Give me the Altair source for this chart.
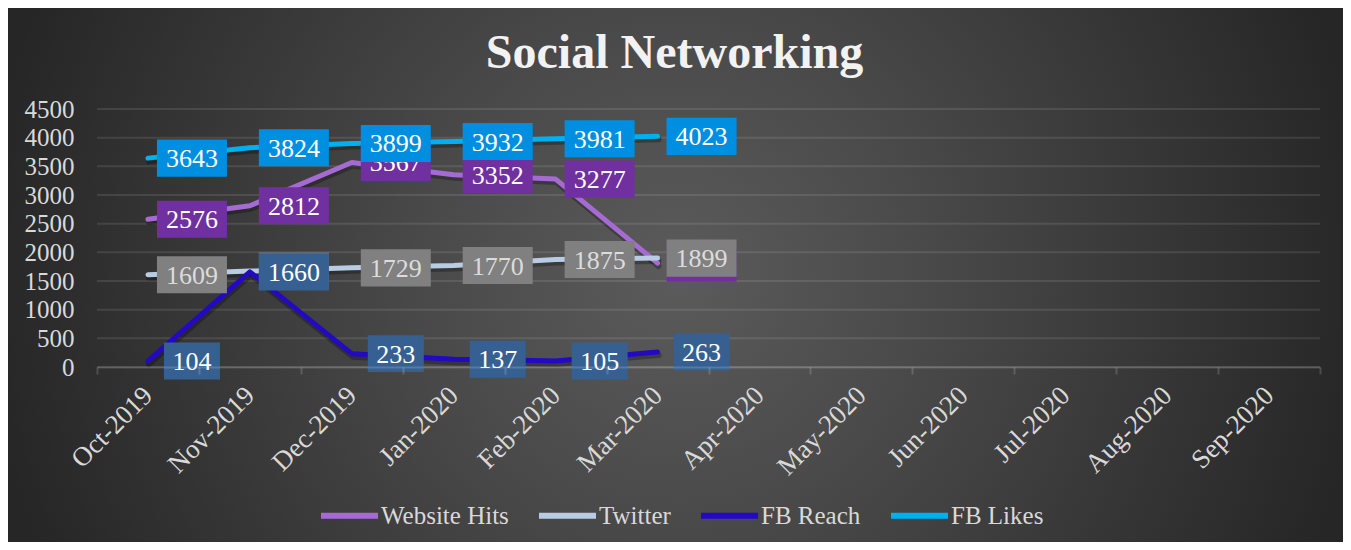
import altair as alt
import pandas as pd

# ---------------- data ----------------
months = ["Oct-2019", "Nov-2019", "Dec-2019", "Jan-2020", "Feb-2020", "Mar-2020",
          "Apr-2020", "May-2020", "Jun-2020", "Jul-2020", "Aug-2020", "Sep-2020"]
series_names = ["Website Hits", "Twitter", "FB Reach", "FB Likes"]
website_hits = [2576, 2812, 3567, 3352, 3277, 1812]
twitter = [1609, 1673, 1729, 1770, 1875, 1899]
fb_reach = [104, 1660, 233, 137, 105, 263]
fb_likes = [3643, 3824, 3899, 3932, 3981, 4023]
y_ticks = [0, 500, 1000, 1500, 2000, 2500, 3000, 3500, 4000, 4500]

line_colors = ["#a66bd3", "#b8cce4", "#2309c2", "#00b0f0"]
box_colors = ["#7030a0", "#808080", "#376092", "#008fe0"]
text_colors = ["#ffffff", "#dcdcdc", "#ffffff", "#ffffff"]

rows = []
for name, vals in zip(series_names, [website_hits, twitter, fb_reach, fb_likes]):
    for m, v in zip(months, vals):
        rows.append({"month": m, "series": name, "value": v, "label": str(v)})
df = pd.DataFrame(rows)
grid_df = pd.DataFrame({"value": y_ticks})

# ---------------- layout ----------------
W, H = 1223, 258
PAD = {"left": 89, "top": 101, "right": 23, "bottom": 175}
FONT = "Liberation Serif"
LABEL_DX = 44

x_enc = alt.X(
    "month:N", sort=months, bandPosition=0.5, title=None,
    scale=alt.Scale(domain=months, type="band", paddingInner=0, paddingOuter=0),
    axis=alt.Axis(labelAngle=315, labelAlign="right", labelBaseline="middle",
                  labelFont=FONT, labelFontSize=27, labelColor="#d9d9d9",
                  labelPadding=17, domainColor="rgba(255,255,255,0.16)", domainWidth=2,
                  tickColor="rgba(255,255,255,0.16)", tickWidth=2, tickSize=7,
                  tickBand="extent", grid=False, zindex=1),
)
y_enc = alt.Y(
    "value:Q", title=None,
    scale=alt.Scale(domain=[0, 4500], nice=False),
    axis=alt.Axis(values=y_ticks, format="d", grid=False, domain=False, ticks=False,
                  labelFont=FONT, labelFontSize=25, labelColor="#d9d9d9",
                  labelPadding=23, zindex=1),
)

bg_gradient = alt.RadialGradient(
    gradient="radial", x1=0.5, y1=0.5, r1=0, x2=0.5, y2=0.5, r2=0.52,
    stops=[alt.GradientStop(color="#5b5b5b", offset=0),
           alt.GradientStop(color="#4a4a4a", offset=0.35),
           alt.GradientStop(color="#262626", offset=1)],
)
bg = alt.Chart(pd.DataFrame({"a": [0]})).mark_rect(fill=bg_gradient).encode(
    x=alt.value(-PAD["left"]), x2=alt.value(W + PAD["right"]),
    y=alt.value(-PAD["top"]), y2=alt.value(H + PAD["bottom"]),
)

grid = alt.Chart(grid_df).mark_rule(stroke="rgba(255,255,255,0.10)", strokeWidth=2).encode(y=y_enc)

shadow = alt.Chart(df).mark_line(color="#000000", strokeWidth=6, opacity=0.28,
                                  yOffset=3, xOffset=1, strokeCap="round",
                                  strokeJoin="round").encode(
    x=x_enc, y=y_enc, detail="series:N")

lines = alt.Chart(df).mark_line(strokeWidth=5, strokeCap="round", strokeJoin="round").encode(
    x=x_enc, y=y_enc,
    color=alt.Color("series:N", sort=series_names,
                    scale=alt.Scale(domain=series_names, range=line_colors),
                    legend=alt.Legend(orient="none", legendX=221, legendY=375,
                                      direction="horizontal", title=None,
                                      symbolType="stroke", symbolSize=3249,
                                      symbolStrokeWidth=6, labelFont=FONT,
                                      labelFontSize=25, labelColor="#d9d9d9",
                                      labelOffset=0, columnPadding=18,
                                      labelLimit=400)),
)

box_shapes = ["M-1,-0.66H1V0.66H-1Z", "M-1,-0.53H1V0.53H-1Z"]
label_layers = []
for name, bc, tc in zip(series_names, box_colors, text_colors):
    sub = alt.Chart(df).transform_filter(alt.datum.series == name)
    box = sub.transform_calculate(nd="length(datum.label)").mark_point(
        filled=True, color=bc, opacity=1, strokeOpacity=0, xOffset=LABEL_DX).encode(
        x=x_enc, y=y_enc,
        shape=alt.Shape("nd:O", scale=alt.Scale(domain=[3, 4], range=box_shapes), legend=None),
        size=alt.Size("nd:O", scale=alt.Scale(domain=[3, 4], range=[3136, 4900]), legend=None),
    )
    txt = sub.mark_text(font=FONT, fontSize=26, color=tc, dx=LABEL_DX, dy=1,
                        align="center", baseline="middle").encode(
        x=x_enc, y=y_enc, text="label:N")
    label_layers += [box, txt]

chart = alt.layer(bg, grid, shadow, lines, *label_layers).properties(
    width=W, height=H, padding=PAD,
    autosize=alt.AutoSizeParams(type="none"),
    background="#2e2e2e",
    title=alt.TitleParams("Social Networking", font=FONT, fontSize=48,
                          fontWeight="bold", color="#f2f2f2", anchor="middle",
                          frame="group", dx=-34, offset=-108, baseline="alphabetic",
                          zindex=2),
).configure_view(strokeOpacity=0)

chart.save("out.html", embed_options={"renderer": "svg", "actions": False})
